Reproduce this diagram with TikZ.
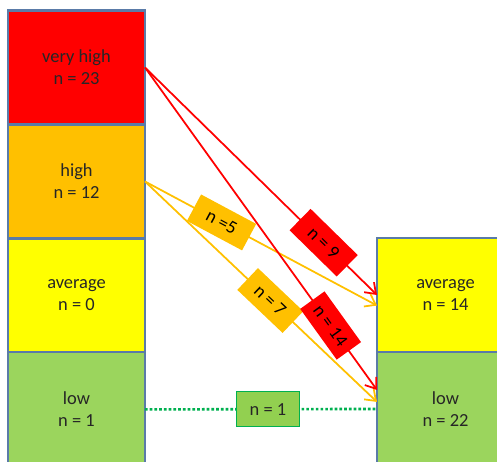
\documentclass[tikz,border=0pt]{standalone}
\usepackage{fontspec}
\setmainfont{Carlito}
\usetikzlibrary{positioning,arrows.meta}
\definecolor{vhred}{HTML}{FF0000}
\definecolor{hiorange}{HTML}{FFC000}
\definecolor{avyellow}{HTML}{FFFF00}
\definecolor{lowgreen}{HTML}{9BD55D}
\definecolor{framec}{HTML}{5A7BA8}
\definecolor{dotgreen}{HTML}{00B050}
\definecolor{tagc}{HTML}{92D050}
\definecolor{txt}{HTML}{262626}
\begin{document}
\begin{tikzpicture}[x=0.02cm,y=-0.02cm,
	level/.style={draw=framec,line width=1.2pt,fill=#1,minimum width=2.74cm,minimum height=2.28cm,
		align=center,text=txt,font=\fontsize{10.5}{12.5}\selectfont,inner sep=0pt,outer sep=0pt},
	flow/.style={draw=#1,line width=1pt,-{Straight Barb[length=5.5pt,width=8pt]}},
	tag/.style={fill=#1,sloped,text=black,font=\fontsize{10.5}{12}\selectfont,
		minimum width=1.25cm,minimum height=0.6cm,inner sep=1pt}]
	\useasboundingbox (0,0) rectangle (497,462);
	% left column
	\node[level=vhred] (lvh) at (76.5,67.5) {very high\\n = 23};
	\node[level=hiorange,below=0pt of lvh] (lhi) {high\\n = 12};
	\node[level=avyellow,below=0pt of lhi] (lavg) {average\\n = 0};
	\node[level=lowgreen,below=0pt of lavg] (llow) {low\\n = 1};
	% right column
	\node[level=avyellow] (ravg) at (445.5,295) {average\\n = 14};
	\node[level=lowgreen,below=0pt of ravg] (rlow) {low\\n = 22};
	% flows
	\draw[flow=vhred] (lvh.east) -- (ravg.west) node[tag=vhred,pos=.77,minimum width=1.32cm] {n = 9};
	\draw[flow=hiorange] (lhi.east) -- ([yshift=-6pt]ravg.west) node[tag=hiorange,pos=.33] {n =5};
	\draw[flow=hiorange] (lhi.east) -- ([yshift=4pt]rlow.west) node[tag=hiorange,pos=.54] {n = 7};
	\draw[flow=vhred] (lvh.east) -- ([yshift=10.8pt]rlow.west) node[tag=vhred,pos=.8] {n = 14};
	\draw[dotgreen,line width=1.5pt,dash pattern=on 1.5pt off 1.2pt] (llow.east) -- (rlow.west)
		node[pos=.53,solid,fill=tagc,draw=dotgreen,line width=0.6pt,text=txt,font=\fontsize{10.5}{12}\selectfont,
		minimum width=1.26cm,minimum height=0.7cm,inner sep=1pt] (nlow) {n = 1};
\end{tikzpicture}
\end{document}
